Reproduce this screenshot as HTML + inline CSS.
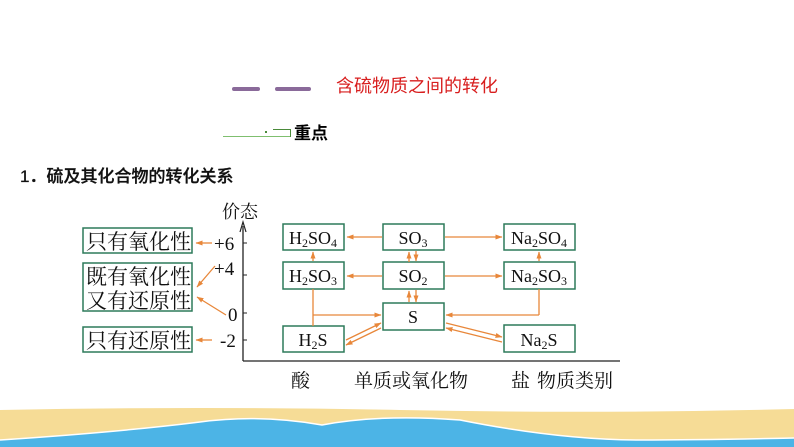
<!DOCTYPE html>
<html><head><meta charset="utf-8"><style>
body{margin:0;width:794px;height:447px;background:#fff;overflow:hidden;position:relative;font-family:"Liberation Serif","Noto Serif CJK SC",serif}
.t{position:absolute;white-space:nowrap}
</style></head><body>
<div style="position:absolute;left:232px;top:87px;width:28px;height:4px;background:#8a6a9a;border-radius:2px"></div>
<div style="position:absolute;left:275px;top:87px;width:36px;height:4px;background:#8a6a9a;border-radius:2px"></div>
<div class="t" style="left:336px;top:72px;font:18px 'Liberation Sans','Noto Sans CJK SC',sans-serif;color:#d81e1e">含硫物质之间的转化</div>
<div style="position:absolute;left:223px;top:136px;width:68px;height:1px;background:#7fbf6f"></div>
<div style="position:absolute;left:265px;top:131px;width:2px;height:2px;background:#4a8a3a"></div>
<div style="position:absolute;left:273px;top:129px;width:18px;height:1px;background:#4a8a3a"></div>
<div style="position:absolute;left:290px;top:129px;width:1px;height:8px;background:#4a8a3a"></div>
<div class="t" style="left:294px;top:119px;font:bold 17px 'Noto Sans CJK SC',sans-serif;width:38px;overflow:hidden">重点</div>
<div class="t" style="left:20px;top:162px;font:500 17px 'Liberation Sans','Noto Sans CJK SC',sans-serif;color:#111;-webkit-text-stroke:0.3px #111">1．硫及其化合物的转化关系</div>
<svg width="794" height="447" style="position:absolute;left:0;top:0" font-family="Liberation Serif,Noto Serif CJK SC,serif">
<defs><marker id="a" markerWidth="7" markerHeight="5" refX="6.5" refY="2.5" orient="auto" markerUnits="userSpaceOnUse"><path d="M0,0L7,2.5L0,5z" fill="#e8873a"/></marker></defs>
<g fill="#fff" stroke="#2d7a5a" stroke-width="1.5">
<rect x="83" y="228" width="109" height="25"/><rect x="83" y="263" width="109" height="48"/><rect x="83" y="327" width="109" height="25"/>
<rect x="283" y="224" width="61" height="26"/><rect x="383" y="224" width="61" height="26"/><rect x="504" y="224" width="71" height="26"/>
<rect x="283" y="262" width="61" height="27"/><rect x="383" y="262" width="61" height="27"/><rect x="504" y="262" width="71" height="27"/>
<rect x="383" y="303" width="61" height="27"/><rect x="283" y="326" width="61" height="26"/><rect x="504" y="325" width="71" height="27"/>
</g>
<g font-size="21" fill="#111" font-family="Noto Serif CJK SC,serif">
<text x="86" y="249">只有氧化性</text><text x="86" y="284">既有氧化性</text><text x="86" y="308">又有还原性</text><text x="86" y="348">只有还原性</text>
</g>
<path d="M243,361V226M243,361H620" stroke="#222" stroke-width="1.3" fill="none"/>
<path d="M240,232L243,222L246,232" stroke="#222" stroke-width="1.2" fill="none"/>
<g stroke="#222"><path d="M243,243h4M243,275h4M243,313h4M243,340h4"/></g>
<g font-size="19" fill="#111">
<text x="214" y="250">+6</text><text x="214" y="275">+4</text><text x="228" y="321">0</text><text x="220" y="347">-2</text>
<text x="222" y="218" font-family="Noto Serif CJK SC,serif" font-size="18">价态</text>
<text x="291" y="387" font-family="Noto Serif CJK SC,serif">酸</text>
<text x="354" y="387" font-family="Noto Serif CJK SC,serif">单质或氧化物</text>
<text x="511" y="387" font-family="Noto Serif CJK SC,serif">盐</text>
<text x="537" y="387" font-family="Noto Serif CJK SC,serif">物质类别</text>
</g>
<g font-size="18" fill="#111" text-anchor="middle">
<text x="313" y="244">H<tspan font-size="12" dy="3">2</tspan><tspan dy="-3">SO</tspan><tspan font-size="12" dy="3">4</tspan></text>
<text x="413" y="244">SO<tspan font-size="12" dy="3">3</tspan></text>
<text x="539" y="244">Na<tspan font-size="12" dy="3">2</tspan><tspan dy="-3">SO</tspan><tspan font-size="12" dy="3">4</tspan></text>
<text x="313" y="282">H<tspan font-size="12" dy="3">2</tspan><tspan dy="-3">SO</tspan><tspan font-size="12" dy="3">3</tspan></text>
<text x="413" y="282">SO<tspan font-size="12" dy="3">2</tspan></text>
<text x="539" y="282">Na<tspan font-size="12" dy="3">2</tspan><tspan dy="-3">SO</tspan><tspan font-size="12" dy="3">3</tspan></text>
<text x="413" y="323">S</text>
<text x="313" y="346">H<tspan font-size="12" dy="3">2</tspan><tspan dy="-3">S</tspan></text>
<text x="539" y="346">Na<tspan font-size="12" dy="3">2</tspan><tspan dy="-3">S</tspan></text>
</g>
<g stroke="#e8873a" stroke-width="1.3" fill="none" marker-end="url(#a)">
<path d="M212,243H196"/><path d="M215,266L197,287"/><path d="M226,315L197,297"/><path d="M212,340H196"/>
<path d="M382,237H347"/><path d="M445,237H502"/><path d="M382,276H347"/><path d="M445,276H502"/>
<path d="M313,261V252"/><path d="M539,261V252"/>
<path d="M409,262V252"/><path d="M416,251V261"/><path d="M409,302V291"/><path d="M416,290V302"/>
<path d="M313,315H381"/><path d="M539,315H446"/>
<path d="M346,340L381,323"/><path d="M381,328L346,345"/><path d="M446,323L502,337"/><path d="M502,342L446,328"/>
</g>
<path d="M313,289V326M539,289V315" stroke="#e8873a" stroke-width="1.3"/>
<path d="M0,410Q200,406 400,410T794,409V447H0Z" fill="#f6dc96"/>
<path d="M0,440Q120,432 200,422Q260,414 322,425Q380,414 460,420Q560,440 640,440Q700,440 794,438V447H0Z" fill="#4cb4e6"/>
<path d="M0,440Q120,432 200,422Q260,414 322,425Q380,414 460,420Q560,440 640,440Q700,440 794,438" stroke="#fff" stroke-width="1.5" fill="none"/>
</svg>
</body></html>
